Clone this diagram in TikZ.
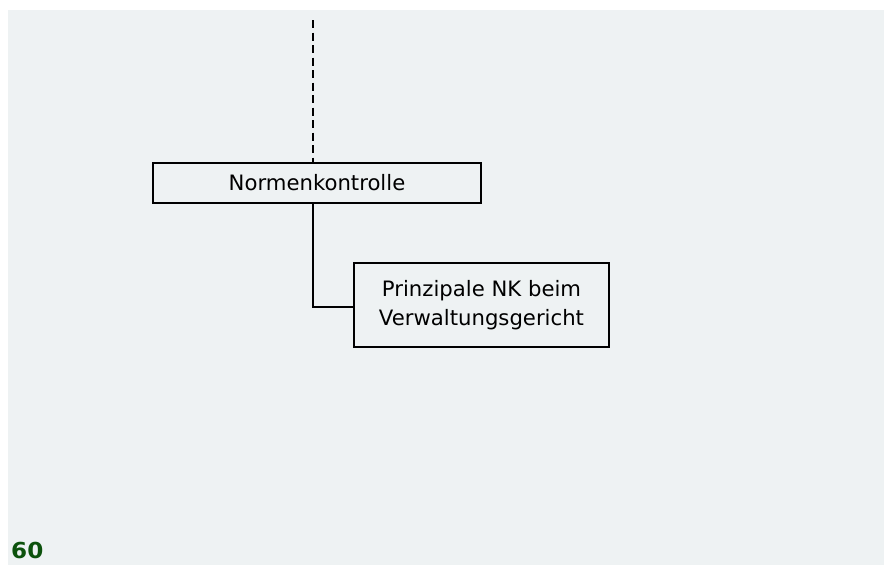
\documentclass[tikz,border=0pt]{standalone}
\usepackage{fontspec}
\setmainfont{DejaVu Sans}
\definecolor{panel}{RGB}{238,242,243}
\definecolor{numgreen}{RGB}{12,82,12}
\begin{document}
\begin{tikzpicture}[x=1pt,y=-1pt,
  boxnode/.style={draw=black,line width=1.5pt,fill=panel,inner sep=0pt,font=\fontsize{21.2}{29}\selectfont,align=center},
  link/.style={draw=black,line width=1.5pt}]
\useasboundingbox (0,0) rectangle (884,565);
\fill[white] (0,0) rectangle (884,565);
\fill[panel] (8,10) rectangle (884,565);
\node[boxnode,minimum width=328pt,minimum height=40pt] (nk) at (317,183) {Normenkontrolle};
\node[boxnode,minimum width=255pt,minimum height=84pt] (pnk) at (481.5,305) {Prinzipale NK beim\\Verwaltungsgericht};
\coordinate (top) at (313,20);
\draw[link,dash pattern=on 8pt off 4.5pt] (top) -- (top |- nk.north);
\draw[link] (top |- nk.south) |- ([yshift=-2pt]pnk.west);
\node[anchor=base west,inner sep=0pt,text=numgreen,font=\fontsize{22}{25}\bfseries\selectfont,xscale=1.05] (num) at (11,558) {60};
\end{tikzpicture}
\end{document}
